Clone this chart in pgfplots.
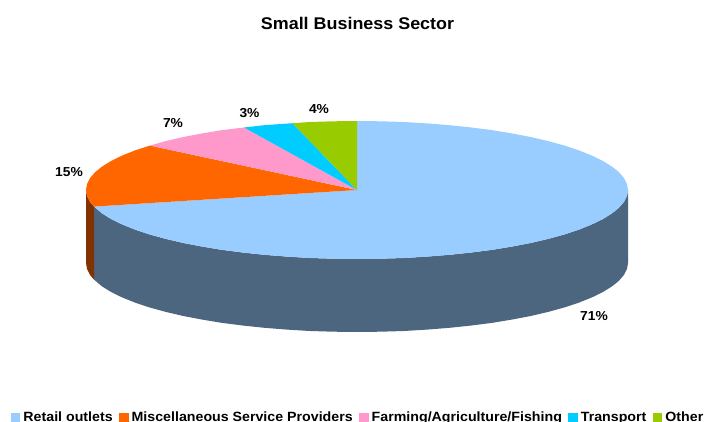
\documentclass[border=0pt]{standalone}
\usepackage{pgfplots}
\pgfplotsset{compat=1.18}
\usepackage{fontspec}
\setmainfont[FakeStretch=1.06]{Liberation Sans}
\definecolor{cRetail}{HTML}{99CCFF}
\definecolor{cMisc}{HTML}{FF6600}
\definecolor{cFarm}{HTML}{FF99CC}
\definecolor{cTrans}{HTML}{00CCFF}
\definecolor{cOther}{HTML}{99CC00}
\definecolor{cRetailSide}{HTML}{4D6680}
\definecolor{cMiscSide}{HTML}{803300}
\begin{document}
\begin{tikzpicture}
\useasboundingbox (0,0) rectangle (704pt,422pt);
\begin{axis}[
  at={(0,0)}, anchor=south west,
  scale only axis, width=704pt, height=422pt,
  xmin=0, xmax=704, ymin=0, ymax=422, y dir=reverse,
  hide axis, clip=false,
  legend columns=5,
  legend style={
    at={(0.0156,0.0)}, anchor=south west, draw=none, fill=none,
    font=\fontsize{13.4}{14}\selectfont\bfseries,
    inner sep=0pt, outer sep=0pt,
    nodes={inner sep=0pt, outer sep=0pt, anchor=base west},
    /tikz/every odd column/.append style={column sep=3pt},
    /tikz/every even column/.append style={column sep=6.5pt},
    yshift=-1pt,
  },
  legend image code/.code={\fill[#1] (0pt,-1pt) rectangle (9.5pt,8.5pt);},
]
% side walls
\addplot[forget plot, draw=none, fill=cRetailSide] coordinates {
(94,206.6)(102.3,213.6)(111.4,219.2)(122.3,224.5)(135,229.6)(149.4,234.4)(165.4,238.8)(182.8,242.9)(201.6,246.5)(221.5,249.8)(242.5,252.5)(264.3,254.8)(286.9,256.6)(309.9,258)(333.4,258.7)(357,259)(380.6,258.7)(404.1,258)(427.1,256.6)(449.7,254.8)(471.5,252.5)(492.5,249.8)(512.4,246.5)(531.2,242.9)(548.6,238.8)(564.6,234.4)(579,229.6)(591.7,224.5)(602.6,219.2)(611.7,213.6)(618.8,207.9)(623.9,202)(627,196)(628,190)
(628,263)(627,269)(623.9,275)(618.8,280.9)(611.7,286.6)(602.6,292.2)(591.7,297.5)(579,302.6)(564.6,307.4)(548.6,311.8)(531.2,315.9)(512.4,319.5)(492.5,322.8)(471.5,325.5)(449.7,327.8)(427.1,329.6)(404.1,331)(380.6,331.7)(357,332)(333.4,331.7)(309.9,331)(286.9,329.6)(264.3,327.8)(242.5,325.5)(221.5,322.8)(201.6,319.5)(182.8,315.9)(165.4,311.8)(149.4,307.4)(135,302.6)(122.3,297.5)(111.4,292.2)(102.3,286.6)(94,279.6)
};
\addplot[forget plot, draw=none, fill=cMiscSide] coordinates {
(86,190)(87,196)(90.1,202)(94,206.6)(94,279.6)(90.1,275)(87,269)(86,263)
};
% top faces
\addplot[draw=none, fill=cRetail] coordinates {
(357,190)(357,121)(380.6,121.3)(404.1,122)(427.1,123.4)(449.7,125.2)(471.5,127.5)(492.5,130.2)(512.4,133.5)(531.2,137.1)(548.6,141.2)(564.6,145.6)(579,150.4)(591.7,155.5)(602.6,160.8)(611.7,166.4)(618.8,172.1)(623.9,178)(627,184)(628,190)
(627,196)(623.9,202)(618.8,207.9)(611.7,213.6)(602.6,219.2)(591.7,224.5)(579,229.6)(564.6,234.4)(548.6,238.8)(531.2,242.9)(512.4,246.5)(492.5,249.8)(471.5,252.5)(449.7,254.8)(427.1,256.6)(404.1,258)(380.6,258.7)(357,259)
(333.4,258.7)(309.9,258)(286.9,256.6)(264.3,254.8)(242.5,252.5)(221.5,249.8)(201.6,246.5)(182.8,242.9)(165.4,238.8)(149.4,234.4)(135,229.6)(122.3,224.5)(111.4,219.2)(102.3,213.6)(94,206.6)
};
\addlegendentry{Retail outlets}
\addplot[draw=none, fill=cMisc] coordinates {
(357,190)(94,206.6)(90.1,202)(87,196)(86,190)(87,184)(90.1,178)(95.2,172.1)(102.3,166.4)(111.4,160.8)(122.3,155.5)(135,150.4)(150,145.6)
};
\addlegendentry{Miscellaneous Service Providers}
\addplot[draw=none, fill=cFarm] coordinates {
(357,190)(150,145.6)(165.4,141.2)(182.8,137.1)(201.6,133.5)(221.5,130.2)(244,127.5)
};
\addlegendentry{Farming/Agriculture/Fishing}
\addplot[draw=none, fill=cTrans] coordinates {
(357,190)(244,127.5)(264.3,125.2)(292.5,123.2)
};
\addlegendentry{Transport}
\addplot[draw=none, fill=cOther] coordinates {
(357,190)(292.5,123.2)(309.9,122)(333.4,121.3)(357,121)
};
\addlegendentry{Other}
\node[font=\fontsize{13}{14}\selectfont\bfseries] at (axis cs:594,315.8) {71\%};
\node[font=\fontsize{13}{14}\selectfont\bfseries] at (axis cs:69,172) {15\%};
\node[font=\fontsize{13}{14}\selectfont\bfseries] at (axis cs:173,122.8) {7\%};
\node[font=\fontsize{13}{14}\selectfont\bfseries] at (axis cs:249.5,112.8) {3\%};
\node[font=\fontsize{13}{14}\selectfont\bfseries] at (axis cs:319,108.8) {4\%};
\node[font=\fontsize{16.9}{18}\selectfont\bfseries] at (axis cs:357.5,23.2) {Small Business Sector};
\end{axis}
\end{tikzpicture}
\end{document}
